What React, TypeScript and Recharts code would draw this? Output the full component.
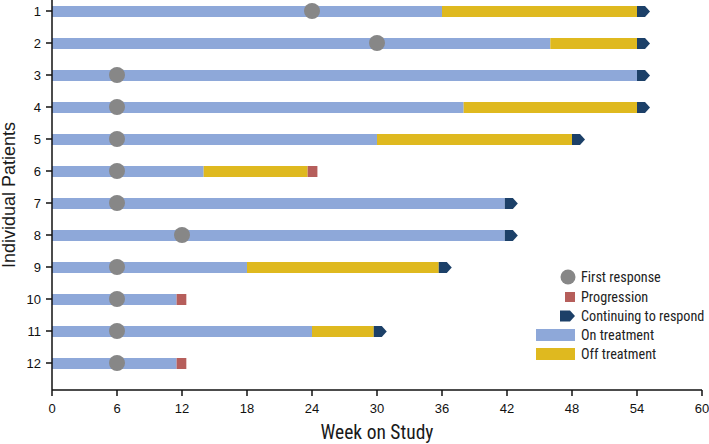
import { ComposedChart, Bar, XAxis, YAxis, ReferenceDot } from "recharts";

// Swimmer plot: weeks on study per patient
const patients = ["1", "2", "3", "4", "5", "6", "7", "8", "9", "10", "11", "12"];
const onTreatment = [36, 46, 54, 38, 30, 14, 41.8, 41.8, 18, 11.5, 24, 11.5];
const offTreatment = [18, 8, 0, 16, 18, 9.6, 0, 0, 17.7, 0, 5.7, 0];
const progression = [0, 0, 0, 0, 0, 0.9, 0, 0, 0, 0.9, 0, 0.9];
const continuing = [1.2, 1.2, 1.2, 1.2, 1.2, 0, 1.2, 1.2, 1.2, 0, 1.2, 0];
const firstResponse = [24, 30, 6, 6, 6, 6, 6, 12, 6, 6, 6, 6];
const weekTicks = [0, 6, 12, 18, 24, 30, 36, 42, 48, 54, 60];

const BLUE = "#8ea8d9";
const YELLOW = "#dfb91f";
const NAVY = "#1c4068";
const RED = "#b65e5b";
const GRAY = "#878787";
const NARROW = '"Roboto Condensed", "DejaVu Sans Condensed", sans-serif';
const SANS = '"Liberation Sans", Arial, sans-serif';

const data = patients.map((p, i) => ({
  patient: p,
  on: onTreatment[i],
  off: offTreatment[i],
  prog: progression[i],
  cont: continuing[i],
  response: firstResponse[i],
}));

const ArrowShape = (props: any) => {
  const { x, y, width, height } = props;
  if (!width || width <= 0) return null;
  const tip = 5;
  const d = `M${x},${y} L${x + width - tip},${y} L${x + width},${y + height / 2} L${x + width - tip},${y + height} L${x},${y + height} Z`;
  return <path d={d} fill={NAVY} />;
};

const Dot = (props: any) => <circle cx={props.cx} cy={props.cy} r={8} fill={GRAY} />;

const legendItems = [
  { label: "First response", y: 277 },
  { label: "Progression", y: 297 },
  { label: "Continuing to respond", y: 316 },
  { label: "On treatment", y: 335 },
  { label: "Off treatment", y: 354 },
];

function LegendOverlay() {
  return (
    <svg width={709} height={444} style={{ position: "absolute", left: 0, top: 0, pointerEvents: "none" }}>
      <circle cx={568} cy={277} r={7.5} fill={GRAY} />
      <rect x={565} y={292} width={10} height={10} fill={RED} />
      <path d="M560,310.5 L570,310.5 L575,316 L570,321.5 L560,321.5 Z" fill={NAVY} />
      <rect x={536} y={329} width={39} height={12} fill={BLUE} />
      <rect x={536} y={348} width={39} height={12} fill={YELLOW} />
      {legendItems.map((it) => (
        <text key={it.label} x={581} y={it.y + 5} fontSize={14.2} fontFamily={NARROW} fill="#222">
          {it.label}
        </text>
      ))}
    </svg>
  );
}

export default function App() {
  return (
    <div style={{ position: "absolute", left: 0, top: 0, width: 709, height: 444, background: "#fff" }}>
      <ComposedChart
        width={709}
        height={444}
        data={data}
        layout="vertical"
        margin={{ top: 0, right: 7, left: 0, bottom: 0 }}
      >
        <XAxis
          type="number"
          domain={[0, 60]}
          ticks={weekTicks}
          interval={0}
          height={54}
          tickSize={6}
          tickMargin={8}
          stroke="#111"
          strokeWidth={1.5}
          tick={{ fontSize: 13, fill: "#111", fontFamily: SANS }}
          label={{
            value: "Week on Study",
            position: "insideBottom",
            offset: 5,
            style: { fontSize: 19.5, fill: "#1a1a1a", fontFamily: NARROW },
          }}
        />
        <YAxis
          type="category"
          dataKey="patient"
          width={52}
          tickSize={6}
          tickMargin={5}
          padding={{ top: -5, bottom: 11 }}
          stroke="#111"
          strokeWidth={1.5}
          tick={{ fontSize: 13, fill: "#111", fontFamily: SANS }}
          label={{
            value: "Individual Patients",
            angle: -90,
            position: "insideLeft",
            offset: 9,
            style: { fontSize: 18, fill: "#1a1a1a", fontFamily: SANS, textAnchor: "middle" },
          }}
        />
        <Bar dataKey="on" stackId="s" barSize={11} fill={BLUE} isAnimationActive={false} />
        <Bar dataKey="off" stackId="s" barSize={11} fill={YELLOW} isAnimationActive={false} />
        <Bar dataKey="prog" stackId="s" barSize={11} fill={RED} isAnimationActive={false} />
        <Bar dataKey="cont" stackId="s" barSize={11} shape={ArrowShape} isAnimationActive={false} />
        {data.map((d) => (
          <ReferenceDot key={d.patient} x={d.response} y={d.patient} r={8} shape={Dot} />
        ))}
      </ComposedChart>
      <LegendOverlay />
    </div>
  );
}
